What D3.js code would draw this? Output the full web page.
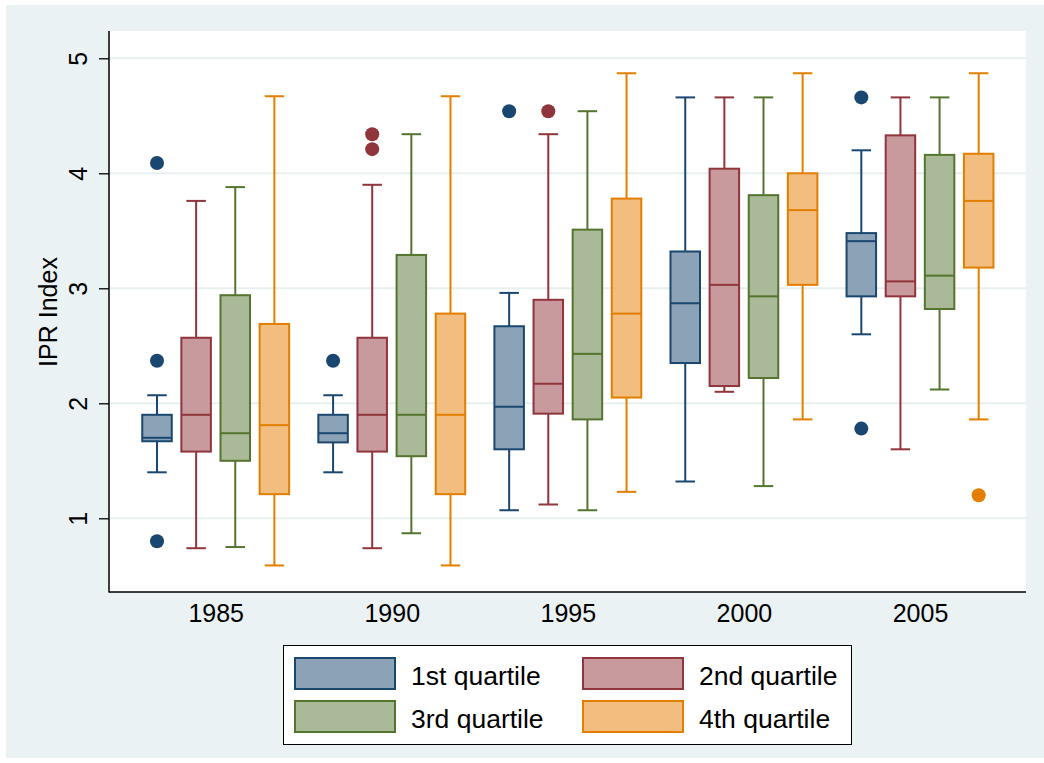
<!DOCTYPE html>
<html>
<head>
<meta charset="utf-8">
<script src="https://cdn.jsdelivr.net/npm/d3@7"></script>
<style>
  html, body { margin: 0; padding: 0; background: #ffffff; }
  svg { display: block; }
  text { font-family: "Liberation Sans", Arial, Helvetica, sans-serif; fill: #000; }
</style>
</head>
<body>
<svg id="chart" width="1044" height="763"></svg>
<script>
// ---------- data ----------
const years = ["1985", "1990", "1995", "2000", "2005"];
const seriesNames = ["1st quartile", "2nd quartile", "3rd quartile", "4th quartile"];
const yTicks = [1, 2, 3, 4, 5];

// per series: one entry per year
const whiskerLow = [
  [1.40, 1.40, 1.07, 1.32, 2.60],
  [0.74, 0.74, 1.12, 2.10, 1.60],
  [0.75, 0.87, 1.07, 1.28, 2.12],
  [0.59, 0.59, 1.23, 1.86, 1.86]
];
const q1 = [
  [1.67, 1.66, 1.60, 2.35, 2.93],
  [1.58, 1.58, 1.91, 2.15, 2.93],
  [1.50, 1.54, 1.86, 2.22, 2.82],
  [1.21, 1.21, 2.05, 3.03, 3.18]
];
const median = [
  [1.70, 1.74, 1.97, 2.87, 3.41],
  [1.90, 1.90, 2.17, 3.03, 3.06],
  [1.74, 1.90, 2.43, 2.93, 3.11],
  [1.81, 1.90, 2.78, 3.68, 3.76]
];
const q3 = [
  [1.90, 1.90, 2.67, 3.32, 3.48],
  [2.57, 2.57, 2.90, 4.04, 4.33],
  [2.94, 3.29, 3.51, 3.81, 4.16],
  [2.69, 2.78, 3.78, 4.00, 4.17]
];
const whiskerHigh = [
  [2.07, 2.07, 2.96, 4.66, 4.20],
  [3.76, 3.90, 4.34, 4.66, 4.66],
  [3.88, 4.34, 4.54, 4.66, 4.66],
  [4.67, 4.67, 4.87, 4.87, 4.87]
];
const outliers = [
  [[4.09, 2.37, 0.80], [2.37], [4.54], [], [4.66, 1.78]],
  [[], [4.34, 4.21], [4.54], [], []],
  [[], [], [], [], []],
  [[], [], [], [], [1.20]]
];

const lineColors = ["#1a476f", "#90353b", "#55752f", "#e37e00"];
const fillColors = ["#8ca3b7", "#c89a9d", "#aab997", "#f1be7f"];

// ---------- layout ----------
const svg = d3.select("#chart");
const W = 1044, H = 763;
const plot = { left: 109, right: 1026, top: 31, bottom: 592 };

// outer background
svg.append("rect").attr("x", 6).attr("y", 5).attr("width", W - 6).attr("height", H - 10)
  .attr("fill", "#eaf2f3");
svg.append("rect").attr("x", plot.left).attr("y", plot.top)
  .attr("width", plot.right - plot.left).attr("height", plot.bottom - plot.top)
  .attr("fill", "#ffffff");

const y = d3.scaleLinear().domain([1, 5]).range([518.3, 58.3]);
// slot positions: group g, series i -> g*4.5 + i
const slot = d3.scaleLinear().domain([0, 21]).range([157, 978.7]);
const xPos = (g, i) => slot(g * 4.5 + i);
const xGroup = d3.scalePoint().domain(years).range([slot(1.5), slot(4 * 4.5 + 1.5)]);

// gridlines
svg.append("g").selectAll("line").data(yTicks).join("line")
  .attr("x1", plot.left + 1).attr("x2", plot.right)
  .attr("y1", d => y(d)).attr("y2", d => y(d))
  .attr("stroke", "#e8eff0").attr("stroke-width", 2);

// y axis
const yAxis = d3.axisLeft(y).tickValues(yTicks).tickSize(10).tickPadding(12).tickFormat(d3.format("d"));
const gy = svg.append("g").attr("transform", `translate(${plot.left},0)`).call(yAxis);
gy.select(".domain").remove();
gy.selectAll(".tick line").attr("stroke", "#000").attr("stroke-width", 1.3);
gy.selectAll(".tick text")
  .attr("x", null).attr("dy", null)
  .attr("transform", "translate(-22,0) rotate(-90)")
  .attr("text-anchor", "middle")
  .style("font-size", "25px")
  .style("font-family", '"Liberation Sans", Arial, Helvetica, sans-serif');
svg.append("line").attr("x1", plot.left).attr("x2", plot.left)
  .attr("y1", plot.top).attr("y2", plot.bottom + 0.5)
  .attr("stroke", "#000").attr("stroke-width", 1.5);

// x axis
const xAxis = d3.axisBottom(xGroup).tickSize(0).tickPadding(12);
const gx = svg.append("g").attr("transform", `translate(0,${plot.bottom})`).call(xAxis);
gx.select(".domain").remove();
gx.selectAll(".tick text").attr("dy", null).attr("y", 30)
  .style("font-size", "25px")
  .style("font-family", '"Liberation Sans", Arial, Helvetica, sans-serif');
svg.append("line").attr("x1", plot.left).attr("x2", plot.right)
  .attr("y1", plot.bottom).attr("y2", plot.bottom)
  .attr("stroke", "#000").attr("stroke-width", 1.5);

// y axis title
svg.append("text").attr("transform", `translate(57,312) rotate(-90)`)
  .attr("text-anchor", "middle").style("font-size", "25px").text("IPR Index");

// ---------- boxes ----------
const boxW = 29.5, capW = 19.5;
const boxes = [];
seriesNames.forEach((s, i) => {
  years.forEach((yr, g) => {
    boxes.push({ i, g, lo: whiskerLow[i][g], q1: q1[i][g], med: median[i][g],
                 q3: q3[i][g], hi: whiskerHigh[i][g], out: outliers[i][g] });
  });
});

const bg = svg.append("g").selectAll("g").data(boxes).join("g");
// whiskers
bg.append("line").attr("x1", d => xPos(d.g, d.i)).attr("x2", d => xPos(d.g, d.i))
  .attr("y1", d => y(d.q3)).attr("y2", d => y(d.hi))
  .attr("stroke", d => lineColors[d.i]).attr("stroke-width", 2);
bg.append("line").attr("x1", d => xPos(d.g, d.i)).attr("x2", d => xPos(d.g, d.i))
  .attr("y1", d => y(d.q1)).attr("y2", d => y(d.lo))
  .attr("stroke", d => lineColors[d.i]).attr("stroke-width", 2);
// caps
bg.append("line").attr("x1", d => xPos(d.g, d.i) - capW / 2).attr("x2", d => xPos(d.g, d.i) + capW / 2)
  .attr("y1", d => y(d.hi)).attr("y2", d => y(d.hi))
  .attr("stroke", d => lineColors[d.i]).attr("stroke-width", 2);
bg.append("line").attr("x1", d => xPos(d.g, d.i) - capW / 2).attr("x2", d => xPos(d.g, d.i) + capW / 2)
  .attr("y1", d => y(d.lo)).attr("y2", d => y(d.lo))
  .attr("stroke", d => lineColors[d.i]).attr("stroke-width", 2);
// box
bg.append("rect").attr("x", d => xPos(d.g, d.i) - boxW / 2).attr("width", boxW)
  .attr("y", d => y(d.q3)).attr("height", d => y(d.q1) - y(d.q3))
  .attr("fill", d => fillColors[d.i]).attr("stroke", d => lineColors[d.i]).attr("stroke-width", 2);
// median
bg.append("line").attr("x1", d => xPos(d.g, d.i) - boxW / 2).attr("x2", d => xPos(d.g, d.i) + boxW / 2)
  .attr("y1", d => y(d.med)).attr("y2", d => y(d.med))
  .attr("stroke", d => lineColors[d.i]).attr("stroke-width", 2);
// outliers
bg.selectAll("circle").data(d => d.out.map(v => ({ v, g: d.g, i: d.i }))).join("circle")
  .attr("cx", d => xPos(d.g, d.i)).attr("cy", d => y(d.v)).attr("r", 7)
  .attr("fill", d => lineColors[d.i]);

// ---------- legend ----------
const lg = svg.append("g");
lg.append("rect").attr("x", 283.5).attr("y", 645.5).attr("width", 568).attr("height", 99)
  .attr("fill", "#fff").attr("stroke", "#000").attr("stroke-width", 1);
const legendItems = seriesNames.map((name, i) => ({ name, i, col: i % 2, row: Math.floor(i / 2) }));
const colX = [295, 583], rowY = [658, 701];
const li = lg.selectAll("g.item").data(legendItems).join("g").attr("class", "item");
li.append("rect").attr("x", d => colX[d.col]).attr("y", d => rowY[d.row])
  .attr("width", 100).attr("height", 31)
  .attr("fill", d => fillColors[d.i]).attr("stroke", d => lineColors[d.i]).attr("stroke-width", 2);
li.append("text").attr("x", d => colX[d.col] + 116).attr("y", d => rowY[d.row] + 27)
  .style("font-size", "26.5px").text(d => d.name);
</script>
</body>
</html>
